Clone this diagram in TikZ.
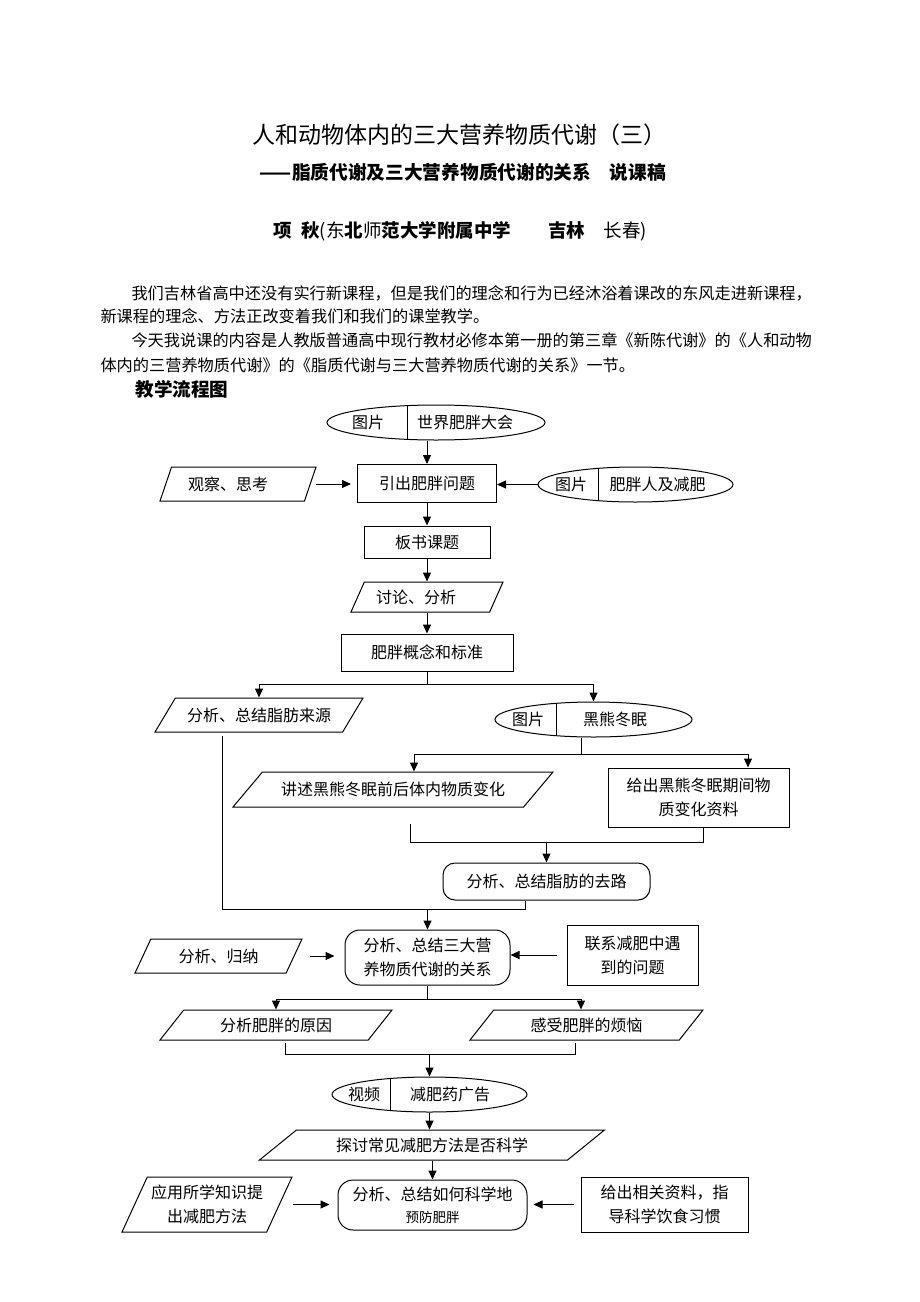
\documentclass[tikz,border=0pt]{standalone}
\usepackage{fontspec}
\setmainfont{Noto Sans CJK SC}
\usetikzlibrary{shapes.geometric,arrows.meta}
\newcommand\bodytxt{\fontsize{16.2}{20}\selectfont}
\tikzset{
  every node/.style={font=\fontsize{16}{24}\selectfont,inner sep=0pt},
  box/.style={draw,rectangle},
  rbox/.style={draw,rectangle,rounded corners=#1},
  rbox/.default=12pt,
  io/.style={draw,trapezium,trapezium left angle=#1,trapezium right angle=180-#1,
    trapezium stretches body=true},
  picbox/.style={draw,ellipse,minimum height=35pt,
    path picture={\draw([xshift=#1]path picture bounding box.north)--([xshift=#1]path picture bounding box.south);}},
  arr/.style={-{Triangle[length=9pt,width=8pt]}},
}
\begin{document}
\begin{tikzpicture}[x=1pt,y=-1pt,line width=1pt]
\useasboundingbox (0,0) rectangle (920,1302);
\node[font=\fontsize{23}{28}\selectfont] (title) at (459,135) {人和动物体内的三大营养物质代谢（三）};
\node[font=\fontsize{18.7}{24}\selectfont\bfseries] (subtitle) at (463,172) {——脂质代谢及三大营养物质代谢的关系　说课稿};
\node[anchor=west,font=\fontsize{18.5}{24}\selectfont] (author) at (273,231)
  {\textbf{项\hspace{0.5em}秋}(东\textbf{北}师\textbf{范大学附属中学}　　\textbf{吉林}　长春)};
\node[anchor=west,font=\bodytxt] (para1a) at (131,293) {我们吉林省高中还没有实行新课程，但是我们的理念和行为已经沐浴着课改的东风走进新课程，};
\node[anchor=west,font=\bodytxt] (para1b) at (100,316) {新课程的理念、方法正改变着我们和我们的课堂教学。};
\node[anchor=west,font=\bodytxt] (para2a) at (131,340) {今天我说课的内容是人教版普通高中现行教材必修本第一册的第三章《新陈代谢》的《人和动物};
\node[anchor=west,font=\bodytxt] (para2b) at (100,365) {体内的三营养物质代谢》的《脂质代谢与三大营养物质代谢的关系》一节。};
\node[anchor=west,font=\fontsize{18.6}{24}\selectfont\bfseries] (flowhead) at (135,389) {教学流程图};

\node[picbox=-29pt,minimum width=218pt] (pic1) at (436,422.5) {};
\node (pic1a) at ([xshift=-68pt]pic1.center) {图片};
\node (pic1b) at ([xshift=29pt]pic1.center) {世界肥胖大会};
\node[box,minimum width=139pt,minimum height=38pt] (q1) at (427,483.5) {引出肥胖问题};
\node[io=52,minimum width=156pt,minimum height=34pt] (obs) at (238,484) {\hspace*{-20pt}观察、思考};
\node[picbox=-37.5pt,minimum width=195pt] (pic2) at (635.5,484.5) {};
\node (pic2a) at ([xshift=-64.5pt]pic2.center) {图片};
\node (pic2b) at ([xshift=22pt]pic2.center) {肥胖人及减肥};
\node[box,minimum width=126pt,minimum height=32pt] (q2) at (427,542) {板书课题};
\node[io=48,minimum width=152pt,minimum height=30pt] (q3) at (427,597) {\hspace*{-22pt}讨论、分析};
\node[box,minimum width=172pt,minimum height=37pt] (q4) at (427,652.5) {肥胖概念和标准};
\node[io=36,minimum width=208pt,minimum height=34pt,inner xsep=-16pt] (src) at (259,715) {分析、总结脂肪来源};
\node[picbox=-37.5pt,minimum width=197pt] (pic3) at (593.5,719.5) {};
\node (pic3a) at ([xshift=-65.5pt]pic3.center) {图片};
\node (pic3b) at ([xshift=21.5pt]pic3.center) {黑熊冬眠};
\node[io=27,minimum width=320pt,minimum height=35pt,inner xsep=-24pt] (bear) at (393,789.5) {讲述黑熊冬眠前后体内物质变化};
\node[box,minimum width=181pt,minimum height=59pt,align=center] (data) at (698.5,797.5) {给出黑熊冬眠期间物\\质变化资料};
\node[rbox,minimum width=207pt,minimum height=37pt] (fate) at (546.5,881.5) {分析、总结脂肪的去路};
\node[rbox=15pt,minimum width=165pt,minimum height=55pt,align=center] (rel) at (427.5,957.5) {分析、总结三大营\\养物质代谢的关系};
\node[io=43,minimum width=167pt,minimum height=34pt] (ind) at (218.5,956) {分析、归纳};
\node[box,minimum width=131pt,minimum height=60pt,align=center] (link) at (632.5,955) {联系减肥中遇\\到的问题};
\node[io=32,minimum width=232pt,minimum height=30pt] (cause) at (276,1025) {分析肥胖的原因};
\node[io=32,minimum width=233pt,minimum height=30pt] (worry) at (586.5,1025) {感受肥胖的烦恼};
\node[picbox=-39.5pt,minimum width=195pt] (ad) at (429.5,1094.5) {};
\node (ada) at ([xshift=-65.5pt]ad.center) {视频};
\node (adb) at ([xshift=20.5pt]ad.center) {减肥药广告};
\node[io=22,minimum width=345pt,minimum height=30pt] (sci) at (432,1145) {探讨常见减肥方法是否科学};
\node[rbox=15pt,minimum width=189pt,minimum height=50pt,align=center] (prev) at (432.5,1205) {分析、总结如何科学地\\[-2pt]{\fontsize{13.5}{20}\selectfont 预防肥胖}};
\node[io=57,minimum width=170pt,minimum height=55pt,align=center,inner xsep=-8pt] (apply) at (207,1204.5) {应用所学知识提\\出减肥方法};
\node[box,minimum width=167pt,minimum height=55pt,align=center] (guide) at (664.5,1204.5) {给出相关资料，指\\导科学饮食习惯};

\draw[arr] (q1.north |- pic1.south) -- (q1.north);
\draw[arr,shorten <=5pt,shorten >=6pt] (obs.east) -- (obs.east -| q1.west);
\draw[arr] (pic2.west) -- (pic2.west -| q1.east);
\draw[arr] (q1.south) -- (q2.north);
\draw[arr] (q2.south) -- (q3.center |- q3.north);
\draw[arr] (q3.center |- q3.south) -- (q4.north);
\draw (q4.south) -- ++(0,13) coordinate (s1);
\draw[arr] (s1) -| (src.center |- src.north);
\draw[arr] (s1) -| (pic3.north);
\draw ([xshift=-12.5pt]pic3.south) -- ++(0,17) coordinate (s2);
\draw[arr] (s2) -| ([xshift=21pt]bear.center |- bear.north);
\draw[arr] (s2) -| ([xshift=49.5pt]data.north);
\coordinate (j1) at ([yshift=20pt]fate.north);
\draw ([xshift=17pt,yshift=-16pt]bear.center |- bear.south) |- (j1) -| ([xshift=4.5pt]data.south);
\draw[arr] (j1) -- (fate.north);
\coordinate (j2) at ([yshift=20pt]rel.north);
\draw ([xshift=-37pt,yshift=-3pt]src.center |- src.south) |- (j2) -| ([xshift=-21.5pt]fate.south);
\draw[arr] (j2) -- (rel.north);
\draw[arr,shorten <=15pt,shorten >=10pt] (ind.east) -- (ind.east -| rel.west);
\draw[arr,shorten <=10pt] (link.west) -- (link.west -| rel.east);
\draw (rel.south) -- ++(0,14) coordinate (s3);
\draw[arr] (s3) -| (cause.center |- cause.north);
\draw[arr] (s3) -| ([xshift=-5.5pt]worry.center |- worry.north);
\coordinate (j3) at ([yshift=22pt]ad.north);
\draw ([xshift=9pt,yshift=-2pt]cause.center |- cause.south) |- (j3) -| ([xshift=-11.5pt,yshift=-2pt]worry.center |- worry.south);
\draw[arr] (j3) -- (ad.north);
\draw[arr] (ad.south) -- (ad.south |- sci.north);
\draw[arr] (prev.north |- sci.south) -- (prev.north);
\draw[arr,shorten <=13pt,shorten >=8pt] (apply.east) -- (apply.east -| prev.west);
\draw[arr,shorten <=7pt,shorten >=6pt] (guide.west) -- (guide.west -| prev.east);
\end{tikzpicture}
\end{document}
